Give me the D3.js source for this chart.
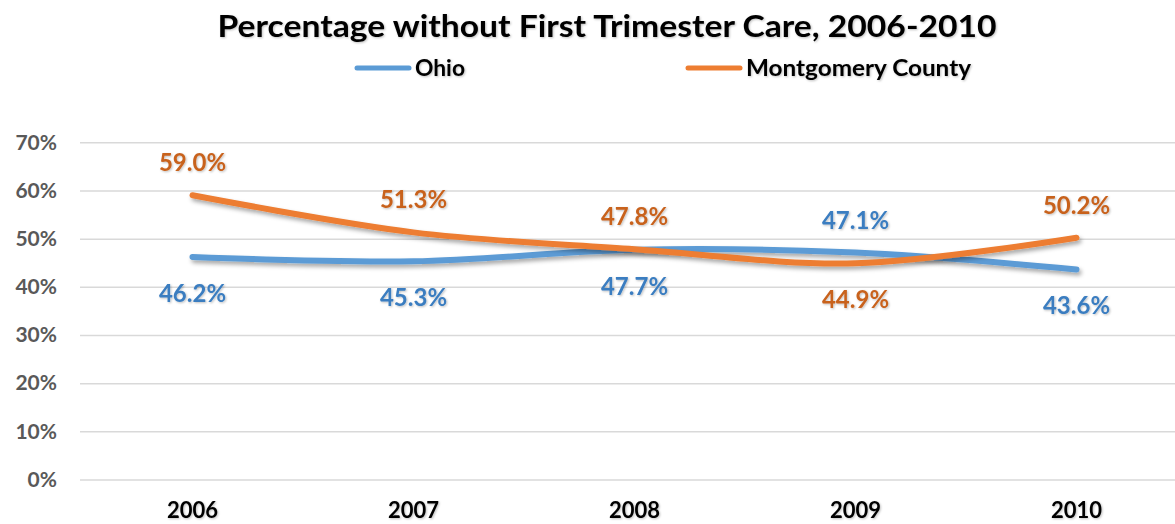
<!DOCTYPE html>
<html>
<head>
<meta charset="utf-8">
<script src="https://cdn.jsdelivr.net/npm/d3@7"></script>
<style>
  body { margin: 0; background: #fff; }
  svg { display: block; font-family: Lato, "Noto Sans", sans-serif; font-weight: bold; }
</style>
</head>
<body>
<div id="chart"></div>
<script>
// chart data
var years = ["2006", "2007", "2008", "2009", "2010"];
var ohio = [46.2, 45.3, 47.7, 47.1, 43.6];
var montgomery = [59.0, 51.3, 47.8, 44.9, 50.2];
var yTicks = [0, 10, 20, 30, 40, 50, 60, 70];
var seriesNames = ["Ohio", "Montgomery County"];

var w = 1175, h = 524;
var lineColors = ["#5b9bd5", "#ed7d31"];
var labelColors = ["#3a7dc0", "#c8621e"];

var svg = d3.select("#chart").append("svg")
    .attr("width", w)
    .attr("height", h);

var defs = svg.append("defs");
defs.append("filter").attr("id", "shadow")
    .attr("x", "-5%").attr("y", "-50%").attr("width", "110%").attr("height", "200%")
  .append("feDropShadow")
    .attr("dx", 2).attr("dy", 3).attr("stdDeviation", 2)
    .attr("flood-color", "#000").attr("flood-opacity", 0.35);
defs.append("filter").attr("id", "tshadow")
    .attr("x", "-5%").attr("y", "-20%").attr("width", "110%").attr("height", "150%")
  .append("feDropShadow")
    .attr("dx", 1).attr("dy", 1).attr("stdDeviation", 1)
    .attr("flood-color", "#000").attr("flood-opacity", 0.25);

var x = d3.scaleBand().domain(years).range([82, 1187]).padding(0);
var y = d3.scaleLinear().domain([0, 70]).range([479.5, 142.3]);
function cx(d) { return x(d) + x.bandwidth() / 2; }

// gridlines + y labels
var yAxis = svg.append("g")
    .attr("transform", "translate(80,0)")
    .call(d3.axisLeft(y).tickValues(yTicks).tickSize(-1100)
      .tickFormat(function(d) { return d + "%"; }).tickPadding(23));
yAxis.select(".domain").remove();
yAxis.selectAll(".tick line").attr("stroke", "#d9d9d9").attr("stroke-width", 1.5);
yAxis.selectAll(".tick text")
    .attr("fill", "#595959")
    .style("font-size", "21px")
    .style("font-family", "Lato, sans-serif")
    .style("font-weight", "bold");

// x labels
var xAxis = svg.append("g")
    .attr("transform", "translate(0,497)")
    .call(d3.axisBottom(x).tickSize(0).tickPadding(5));
xAxis.select(".domain").remove();
xAxis.selectAll(".tick text")
    .attr("fill", "#000")
    .attr("dy", "0.71em")
    .attr("filter", "url(#tshadow)")
    .style("font-size", "22px")
    .style("font-family", "Lato, sans-serif")
    .style("font-weight", "bold");

// lines
var series = [ohio, montgomery];
var line = d3.line()
    .x(function(d, i) { return cx(years[i]); })
    .y(function(d) { return y(d); })
    .curve(d3.curveCatmullRom.alpha(0.5));

series.forEach(function(s, k) {
  svg.append("path")
      .datum(s)
      .attr("d", line)
      .attr("fill", "none")
      .attr("stroke", lineColors[k])
      .attr("stroke-width", 6)
      .attr("stroke-linecap", "round")
      .attr("stroke-linejoin", "round")
      .attr("filter", "url(#shadow)");
});

// data labels: higher value above, lower below
series.forEach(function(s, k) {
  var other = series[1 - k];
  svg.append("g").selectAll("text")
      .data(s)
      .enter()
      .append("text")
      .attr("x", function(d, i) { return cx(years[i]); })
      .attr("y", function(d, i) {
        return d >= other[i] ? y(d) - 24 : y(d) + 45;
      })
      .attr("text-anchor", "middle")
      .attr("fill", labelColors[k])
      .attr("filter", "url(#tshadow)")
      .style("font-size", "24px")
      .text(function(d) { return d.toFixed(1) + "%"; });
});

// title
svg.append("text")
    .attr("x", 607)
    .attr("y", 37)
    .attr("text-anchor", "middle")
    .attr("textLength", 779)
    .attr("lengthAdjust", "spacingAndGlyphs")
    .attr("filter", "url(#tshadow)")
    .style("font-size", "30px")
    .text("Percentage without First Trimester Care, 2006-2010");

// legend
var legendX = [357, 688];
var legendW = [50, 225];
seriesNames.forEach(function(n, k) {
  var g = svg.append("g").attr("transform", "translate(" + legendX[k] + ",68)");
  g.append("line")
      .attr("x1", 0).attr("x2", 52)
      .attr("stroke", lineColors[k])
      .attr("stroke-width", 5)
      .attr("stroke-linecap", "round");
  g.append("text")
      .attr("x", 58)
      .attr("y", 8)
      .attr("fill", "#000")
      .attr("textLength", legendW[k])
      .attr("lengthAdjust", "spacingAndGlyphs")
      .attr("filter", "url(#tshadow)")
      .style("font-size", "22px")
      .text(n);
});
</script>
</body>
</html>
